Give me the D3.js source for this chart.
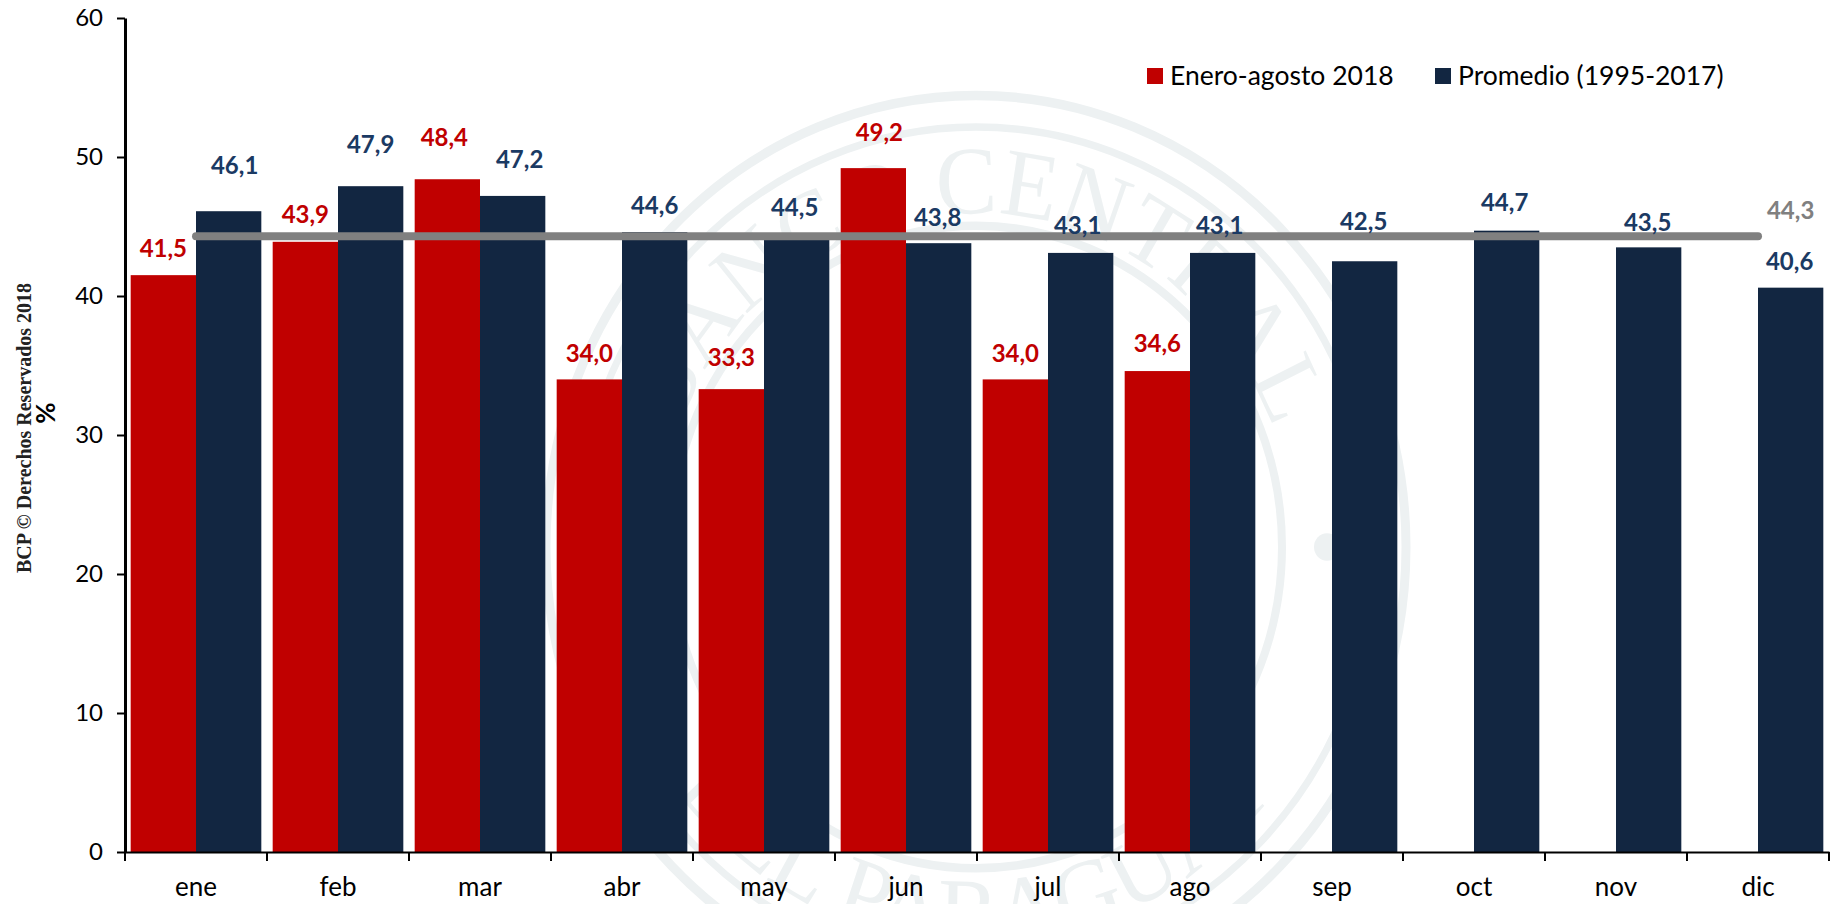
<!DOCTYPE html>
<html>
<head>
<meta charset="utf-8">
<style>
  html, body { margin: 0; padding: 0; background: #fff; overflow: hidden; }
  svg { display: block; }
  text { font-family: Lato, sans-serif; }
</style>
<script src="https://cdnjs.cloudflare.com/ajax/libs/d3/7.8.5/d3.min.js"></script>
</head>
<body>
<div id="chart"></div>
<script>
var months = ['ene', 'feb', 'mar', 'abr', 'may', 'jun', 'jul', 'ago', 'sep', 'oct', 'nov', 'dic'];
var seriesNames = ['Enero-agosto 2018', 'Promedio (1995-2017)'];
var values2018 = [41.5, 43.9, 48.4, 34.0, 33.3, 49.2, 34.0, 34.6];
var valuesAvg = [46.1, 47.9, 47.2, 44.6, 44.5, 43.8, 43.1, 43.1, 42.5, 44.7, 43.5, 40.6];
var avgLine = 44.3;
var yTicks = [0, 10, 20, 30, 40, 50, 60];

// label nudges, the original labels were placed by hand
var nudge2018 = [[0, 27], [0, 27], [-3, 42], [0, 26], [0, 32], [6, 36], [0, 26], [0, 27]];
var nudgeAvg = [[6, 46], [0, 42], [7, 36], [0, 26], [-2, 26], [-1, 26], [-3, 27], [-3, 27], [-1, 40], [-2, 28], [-1, 25], [-1, 26]];

var w = 1837,
  h = 904;
var red = '#c00000',
  navy = '#122641',
  labelNavy = '#1b3a63',
  grey = '#808080',
  seal = '#edf1f2';

var svg = d3.select('#chart').append('svg').attr('width', w).attr('height', h);

var x = d3.scaleBand().domain(months).range([125, 1829]).paddingInner(0.08).paddingOuter(0.04);
var xSub = d3.scaleBand().domain(seriesNames).range([0, x.bandwidth()]);
var y = d3.scaleLinear().domain([0, 60]).range([852, 18]);

// WATERMARK
var sealX = 976,
  sealY = 547;
var wm = svg
  .append('g')
  .attr('transform', 'translate(' + sealX + ',' + sealY + ') scale(1,1.05)')
  .attr('fill', seal);

function ring(r, sw) {
  wm.append('circle').attr('r', r).attr('fill', 'none').attr('stroke', seal).attr('stroke-width', sw);
}
ring(430, 9);
ring(400, 7);
ring(306, 8);

wm.append('circle').attr('cx', 351).attr('r', 13);
wm.append('circle').attr('cx', -351).attr('r', 13);

var defs = svg.append('defs');
var top_ = d3.path();
top_.arc(0, 0, 318, Math.PI * 1.06, Math.PI * 1.94, false);
defs.append('path').attr('id', 'sealTop').attr('d', top_.toString());
var bottom = d3.path();
bottom.arc(0, 0, 379, Math.PI * 0.89, Math.PI * 0.11, true);
defs.append('path').attr('id', 'sealBottom').attr('d', bottom.toString());

wm.append('text')
  .attr('font-size', 92)
  .style('font-family', '"Liberation Serif", serif')
  .attr('text-anchor', 'middle')
  .append('textPath')
  .attr('href', '#sealTop')
  .attr('startOffset', '50%')
  .text('BANCO CENTRAL');
wm.append('text')
  .attr('font-size', 92)
  .style('font-family', '"Liberation Serif", serif')
  .attr('text-anchor', 'middle')
  .append('textPath')
  .attr('href', '#sealBottom')
  .attr('startOffset', '50%')
  .text('DEL PARAGUAY');

// BARS
svg
  .selectAll('rect.r2018')
  .data(values2018)
  .enter()
  .append('rect')
  .attr('class', 'r2018')
  .attr('fill', red)
  .attr('x', function(d, i) {
    return x(months[i]) + xSub(seriesNames[0]);
  })
  .attr('width', xSub.bandwidth())
  .attr('y', function(d) {
    return y(d);
  })
  .attr('height', function(d) {
    return y(0) - y(d);
  });

svg
  .selectAll('rect.avg')
  .data(valuesAvg)
  .enter()
  .append('rect')
  .attr('class', 'avg')
  .attr('fill', navy)
  .attr('x', function(d, i) {
    return x(months[i]) + xSub(seriesNames[1]);
  })
  .attr('width', xSub.bandwidth())
  .attr('y', function(d) {
    return y(d);
  })
  .attr('height', function(d) {
    return y(0) - y(d);
  });

// AVERAGE LINE
var line = d3
  .line()
  .x(function(d) {
    return x(d) + x.bandwidth() / 2;
  })
  .y(function() {
    return y(avgLine);
  });
svg
  .append('path')
  .datum(months)
  .attr('d', line)
  .attr('fill', 'none')
  .attr('stroke', grey)
  .attr('stroke-width', 8)
  .attr('stroke-linecap', 'round');

// AXES
var xAxis = d3.axisBottom(x).tickSize(0).tickPadding(26);
var yAxis = d3
  .axisLeft(y)
  .tickValues(yTicks)
  .tickSize(8)
  .tickSizeOuter(0)
  .tickPadding(14);

var gx = svg.append('g').attr('transform', 'translate(0,' + y(0) + ')').call(xAxis);
gx.selectAll('text').attr('font-size', 26).attr('fill', '#000').style('font-family', 'Lato, sans-serif');
gx.select('.domain').attr('stroke', '#000').attr('stroke-width', 2);

var gy = svg.append('g').attr('transform', 'translate(125,0)').call(yAxis);
gy.selectAll('text').attr('font-size', 24).attr('fill', '#000').style('font-family', 'Lato, sans-serif');
gy.selectAll('line').attr('stroke', '#000').attr('stroke-width', 2);
gy.select('.domain').attr('stroke', '#000').attr('stroke-width', 3);

// month boundary ticks
svg
  .selectAll('line.boundary')
  .data(d3.range(months.length + 1))
  .enter()
  .append('line')
  .attr('class', 'boundary')
  .attr('x1', function(i) {
    return 125 + i * x.step();
  })
  .attr('x2', function(i) {
    return 125 + i * x.step();
  })
  .attr('y1', y(0))
  .attr('y2', y(0) + 9)
  .attr('stroke', '#000')
  .attr('stroke-width', 2);

// DATA LABELS
function fmt(v) {
  return v.toFixed(1).replace('.', ',');
}

function labels(data, nudge, name, color) {
  svg
    .selectAll('text.' + name)
    .data(data)
    .enter()
    .append('text')
    .attr('class', name)
    .attr('text-anchor', 'middle')
    .attr('dy', '0.35em')
    .attr('font-size', 24)
    .attr('font-weight', 700)
    .attr('fill', color)
    .attr('x', function(d, i) {
      return x(months[i]) + xSub(name === 'l2018' ? seriesNames[0] : seriesNames[1]) + xSub.bandwidth() / 2 + nudge[i][0];
    })
    .attr('y', function(d, i) {
      return y(d) - nudge[i][1];
    })
    .text(fmt);
}
labels(values2018, nudge2018, 'l2018', red);
labels(valuesAvg, nudgeAvg, 'lavg', labelNavy);

svg
  .append('text')
  .attr('text-anchor', 'middle')
  .attr('dy', '0.35em')
  .attr('font-size', 24)
  .attr('font-weight', 700)
  .attr('fill', grey)
  .attr('x', x('dic') + xSub(seriesNames[1]) + xSub.bandwidth() / 2)
  .attr('y', y(avgLine) - 26)
  .text(fmt(avgLine));

// LEGEND
var legendX = [1147, 1435];
var legend = svg
  .selectAll('g.legend')
  .data(seriesNames)
  .enter()
  .append('g')
  .attr('class', 'legend')
  .attr('transform', function(d, i) {
    return 'translate(' + legendX[i] + ',68)';
  });
legend
  .append('rect')
  .attr('width', 16)
  .attr('height', 16)
  .attr('fill', function(d, i) {
    return i === 0 ? red : navy;
  });
legend
  .append('text')
  .attr('x', 23)
  .attr('y', 8)
  .attr('dy', '0.35em')
  .attr('font-size', 26.5)
  .attr('fill', '#000')
  .text(function(d) {
    return d;
  });

// SIDE TITLES
svg
  .append('text')
  .attr('transform', 'translate(46,413) rotate(-90)')
  .attr('text-anchor', 'middle')
  .attr('dy', '0.35em')
  .attr('font-size', 26)
  .attr('font-weight', 700)
  .attr('fill', '#000')
  .text('%');
svg
  .append('text')
  .attr('transform', 'translate(24,428) rotate(-90)')
  .attr('text-anchor', 'middle')
  .attr('dy', '0.35em')
  .attr('font-size', 20)
  .attr('font-weight', 700)
  .style('font-family', '"Liberation Serif", serif')
  .attr('fill', '#222')
  .text('BCP © Derechos Reservados 2018');
</script>
</body>
</html>
